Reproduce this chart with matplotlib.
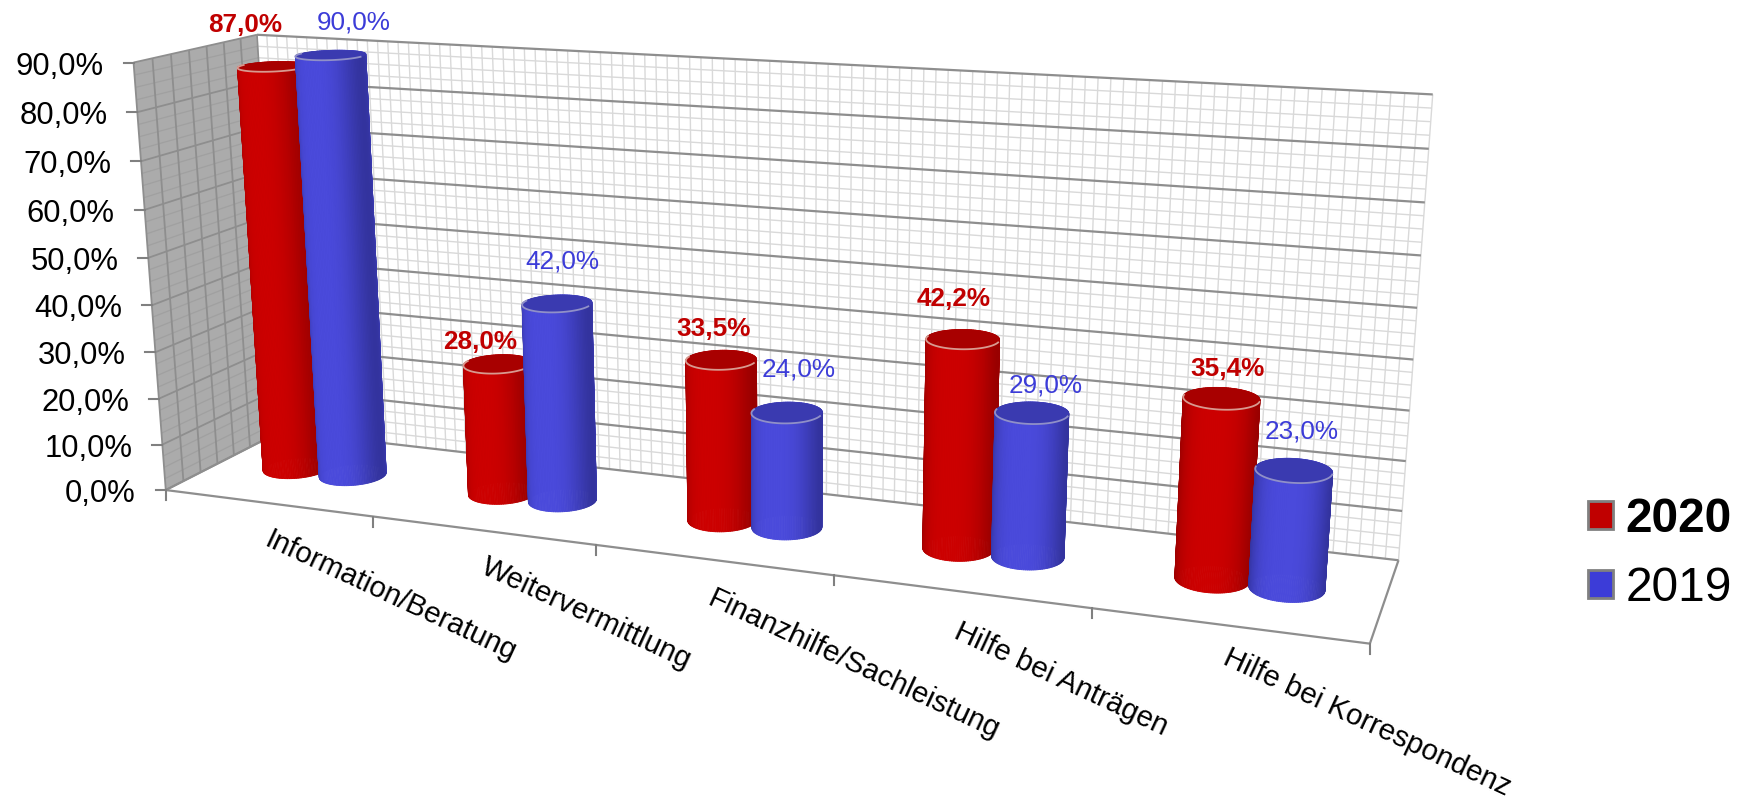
import numpy as np
import matplotlib
matplotlib.use('Agg')
import matplotlib.pyplot as plt
from matplotlib.collections import PolyCollection, LineCollection
from matplotlib.patches import Patch

plt.rcParams['font.family'] = ['Liberation Sans', 'DejaVu Sans']

categories = ['Information/Beratung', 'Weitervermittlung', 'Finanzhilfe/Sachleistung',
              'Hilfe bei Anträgen', 'Hilfe bei Korrespondenz']
values_2020 = [87.0, 28.0, 33.5, 42.2, 35.4]
values_2019 = [90.0, 42.0, 24.0, 29.0, 23.0]
y_ticks = [0, 10, 20, 30, 40, 50, 60, 70, 80, 90]

RED = '#c00000'
BLUE = '#3c3cd8'

# picture positions of known chart points: (category axis, depth, percent) -> pixel
# used only to work out the camera of the fake 3d chart, last number is the weight
cam_pts = [
    (0, 0, 90, 134, 62, 1), (0, 0, 80, 137, 112, 1), (0, 0, 70, 141, 161, 1), (0, 0, 60, 144, 210, 1),
    (0, 0, 50, 148, 258, 1), (0, 0, 40, 152, 305, 1), (0, 0, 30, 155, 352, 1), (0, 0, 20, 158, 398, 1),
    (0, 0, 10, 161.5, 444, 1), (0, 0, 0, 165, 490, 1),
    (0, 1, 90, 257, 35, 3), (0, 1, 0, 281, 431, 3),
    (5, 1, 0, 1399, 560, 2), (5, 1, 10, 1402, 512, 1), (5, 1, 20, 1405, 462, 1), (5, 1, 30, 1409, 411, 1),
    (5, 1, 40, 1413, 359, 1), (5, 1, 50, 1416, 308, 1), (5, 1, 90, 1433, 94, 2),
    (5, 0, 0, 1370, 643, 2), (1, 0, 0, 379, 517, 1), (2, 0, 0, 596, 546, 1), (3, 0, 0, 833, 577, 1), (4, 0, 0, 1090, 610, 1),
]

A = []
b = []
for u, d, z, px, py, w in cam_pts:
    A.append([w * k for k in (u, d, z, 1, 0, 0, 0, 0, -px * u, -px * d, -px * z)])
    b.append(w * px)
    A.append([w * k for k in (0, 0, 0, 0, u, d, z, 1, -py * u, -py * d, -py * z)])
    b.append(w * py)
cam = np.linalg.lstsq(np.array(A, float), np.array(b, float), rcond=None)[0]
cam = np.append(cam, 1.0).reshape(3, 4)


def proj(u, d, z):
    u, d, z = np.broadcast_arrays(np.asarray(u, float), np.asarray(d, float), np.asarray(z, float))
    pts = np.stack([u, d, z, np.ones_like(u)], axis=-1) @ cam.T
    return pts[..., :2] / pts[..., 2:3]


def wall_line(p0, p1, n=2):
    t = np.linspace(0, 1, n)
    return proj(p0[0] + (p1[0] - p0[0]) * t, p0[1] + (p1[1] - p0[1]) * t, p0[2] + (p1[2] - p0[2]) * t)


def cylinder(ax, u0, d0, val, bright, dark, top_col, rim_col, z):
    th = np.linspace(0, 2 * np.pi, 121)
    uu = u0 + r_u * np.cos(th)
    dd = d0 + r_d * np.sin(th)
    bot = proj(uu, dd, 0)
    top = proj(uu, dd, val)
    order = np.argsort(-np.sin(th[:-1] + np.pi / 120))
    polys = []
    cols = []
    for i in order:
        polys.append([bot[i], bot[i + 1], top[i + 1], top[i]])
        t = abs(np.cos(th[i] + np.pi / 120))
        cols.append(dark + (bright - dark) * (1 - t ** 3))
    ax.add_collection(PolyCollection(polys, facecolors=cols, edgecolors=cols, linewidths=0.6, zorder=z))
    ax.fill(top[:, 0], top[:, 1], color=top_col, lw=0.5, zorder=z + 0.1)
    th2 = np.linspace(np.pi, 2 * np.pi, 61)
    rim = proj(u0 + r_u * np.cos(th2), d0 + r_d * np.sin(th2), val)
    ax.plot(rim[:, 0], rim[:, 1], color=rim_col, lw=1.3, zorder=z + 0.2)


fig = plt.figure(figsize=(17.42, 8.02), dpi=100)
ax = fig.add_axes([0, 0, 1, 1])
ax.set_xlim(0, 1742)
ax.set_ylim(802, 0)
ax.axis('off')

# walls
c = wall_line((0, 0, 0), (0, 0, 90))
e = wall_line((0, 1, 90), (0, 1, 0))
ax.fill(np.r_[c[:, 0], e[:, 0]], np.r_[c[:, 1], e[:, 1]], color='#ababab', lw=0, zorder=1)

minor = []
major = []
left_minor = []
left_major = []
for zz in np.arange(0, 90.1, 2.5):
    line = wall_line((0, 1, zz), (5, 1, zz))
    if zz % 10 == 0:
        major.append(line)
        left_major.append(wall_line((0, 0, zz), (0, 1, zz)))
    else:
        minor.append(line)
        left_minor.append(wall_line((0, 0, zz), (0, 1, zz)))
for uu in np.arange(0, 5.01, 0.05):
    minor.append(wall_line((uu, 1, 0), (uu, 1, 90)))
for dd in np.linspace(0, 1, 8):
    left_major.append(wall_line((0, dd, 0), (0, dd, 90)))
ax.add_collection(LineCollection(minor, colors='#d9d9d9', linewidths=1.0, zorder=2))
ax.add_collection(LineCollection(major, colors='#8e8e8e', linewidths=1.6, zorder=2.1))
ax.add_collection(LineCollection(left_minor, colors='#a0a0a0', linewidths=0.9, zorder=2))
ax.add_collection(LineCollection(left_major, colors='#8e8e8e', linewidths=1.3, zorder=2.1))

# floor edges
floor = [wall_line((0, 0, 0), (5, 0, 0)), wall_line((5, 0, 0), (5, 1, 0)), wall_line((0, 0, 0), (0, 1, 0))]
ax.add_collection(LineCollection(floor, colors='#8e8e8e', linewidths=1.6, zorder=2.2))

# ticks
for zz in y_ticks:
    p = proj(0, 0, zz)
    ax.plot([p[0] - 10, p[0]], [p[1], p[1]], color='#808080', lw=1.5, zorder=3)
    ax.text(p[0] - 30, p[1] + 4, f'{zz:.1f}%'.replace('.', ','), ha='right', va='center', fontsize=22.3, color='black')
for i in range(6):
    p = proj(i, 0, 0)
    ax.plot([p[0], p[0]], [p[1], p[1] + 10], color='#808080', lw=1.5, zorder=3)

# category labels start near the middle of each group
cat_dx = [-2, 0, -3, -5, -3]
cat_dy = [35, 35, 37, 39, 31]
for i, name in enumerate(categories):
    p = proj(i + 0.5, 0, 0)
    ax.text(p[0] + cat_dx[i], p[1] + cat_dy[i], name, rotation=-25, rotation_mode='anchor',
            ha='left', va='center', fontsize=21.2, color='black')

# cylinders
r_u = 0.14
r_d = 0.165
d_mid = 0.50
red_bright, red_dark = np.array([0.80, 0.0, 0.0]), np.array([0.60, 0.0, 0.0])
blue_bright, blue_dark = np.array([0.29, 0.29, 0.86]), np.array([0.20, 0.20, 0.62])

# offsets of the value labels from the top of each cylinder, pixels
lab_dx_2020 = [-28, -18, -8, -9, 6]
lab_dy_2020 = [-42, -22, -31, -40, -29]
lab_dx_2019 = [23, 5, 12, 14, 8]
lab_dy_2019 = [-33, -42, -43, -27, -39]

for i in range(5):
    z0 = 5 + i
    u_red = i + 0.5 - r_u
    u_blue = i + 0.5 + r_u
    cylinder(ax, u_red, d_mid, values_2020[i], red_bright, red_dark, '#a80000', '#d89a90', z0)
    cylinder(ax, u_blue, d_mid, values_2019[i], blue_bright, blue_dark, '#3a3ab0', '#9090c8', z0 + 0.5)
    p = proj(u_red, d_mid, values_2020[i])
    ax.text(p[0] + lab_dx_2020[i], p[1] + lab_dy_2020[i], f'{values_2020[i]:.1f}%'.replace('.', ','),
            ha='center', va='center', fontsize=18.8, fontweight='bold', color=RED, zorder=20)
    p = proj(u_blue, d_mid, values_2019[i])
    ax.text(p[0] + lab_dx_2019[i], p[1] + lab_dy_2019[i], f'{values_2019[i]:.1f}%'.replace('.', ','),
            ha='center', va='center', fontsize=18.8, color=BLUE, zorder=20)

handles = [Patch(facecolor=RED, edgecolor='#808080', lw=2, label='2020'),
           Patch(facecolor=BLUE, edgecolor='#808080', lw=2, label='2019')]
leg = ax.legend(handles=handles, loc='center left', bbox_to_anchor=(1588 / 1742, 1 - 554 / 802), frameon=False,
                fontsize=34.5, handlelength=0.53, handleheight=0.53, handletextpad=0.26, labelspacing=0.5,
                borderpad=0, borderaxespad=0)
leg.get_texts()[0].set_fontweight('bold')

fig.savefig('out.png', dpi=100)
